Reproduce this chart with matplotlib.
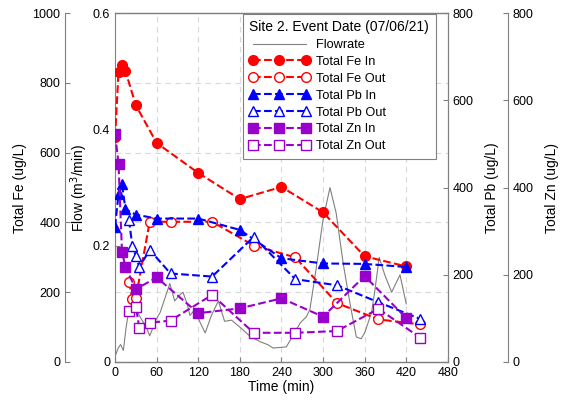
import matplotlib
matplotlib.use('Agg')
import matplotlib.pyplot as plt
from matplotlib.ticker import MultipleLocator, FormatStrFormatter

plt.rcParams['font.family'] = ['Liberation Sans', 'DejaVu Sans']

# flow record
flow_time = [0, 5, 8, 12, 16, 20, 25, 30, 35, 40, 45, 50, 55, 60, 65, 72, 79, 86, 93, 98,
             104, 108, 115, 122, 130, 139, 149, 158, 168, 180, 194, 209, 220, 228, 247, 257,
             267, 276, 281, 290, 300, 310, 319, 329, 339, 348, 355, 360, 370, 375, 381, 389,
             399, 411, 420]
flow = [0.01, 0.025, 0.03, 0.02, 0.06, 0.09, 0.10, 0.095, 0.08, 0.07, 0.06, 0.045, 0.06, 0.075,
        0.085, 0.11, 0.135, 0.105, 0.115, 0.12, 0.10, 0.08, 0.09, 0.07, 0.05, 0.08, 0.105,
        0.07, 0.072, 0.06, 0.045, 0.035, 0.03, 0.024, 0.026, 0.046, 0.067, 0.078, 0.09, 0.16,
        0.245, 0.30, 0.256, 0.17, 0.10, 0.043, 0.04, 0.05, 0.085, 0.125, 0.18, 0.15, 0.12,
        0.15, 0.10]

# inflow samples
t_in = [0, 5, 10, 15, 30, 60, 120, 180, 240, 300, 360, 420]
fe_in = [645, 832, 851, 834, 736, 628, 542, 467, 502, 429, 303, 274]
pb_in = [310, 385, 408, 350, 338, 329, 329, 303, 238, 226, 225, 218]
zn_in = [524, 455, 253, 218, 167, 194, 112, 123, 146, 104, 197, 101]

# outflow samples
t_fe_out = [20, 25, 30, 50, 80, 140, 200, 260, 320, 380, 440]
fe_out = [230, 180, 184, 402, 402, 402, 334, 300, 169, 122, 108]
t_pb_out = [20, 25, 30, 35, 50, 80, 140, 200, 260, 320, 380, 440]
pb_out = [326, 266, 243, 218, 257, 203, 196, 287, 190, 176, 137, 99]
t_zn_out = [20, 30, 35, 50, 80, 140, 200, 260, 320, 380, 440]
zn_out = [117, 127, 78, 90, 95, 154, 67, 67, 71, 122, 56]

red = '#ff0000'
blue = '#0000ff'
purple = '#9900cc'
spine_c = '#808080'

fig = plt.figure(figsize=(5.64, 4), dpi=100)
ax = fig.add_axes([0.204, 0.095, 0.59, 0.872])

# flow axis (host)
ax.plot(flow_time, flow, color='#808080', lw=0.8, label='Flowrate')
ax.set_xlim(0, 480)
ax.set_ylim(0, 0.6)
ax.xaxis.set_major_locator(MultipleLocator(60))
ax.yaxis.set_major_locator(MultipleLocator(0.2))
ax.yaxis.set_major_formatter(FormatStrFormatter('%g'))
ax.yaxis.set_minor_locator(MultipleLocator(0.12))
ax.grid(axis='x', which='major', color='#d9d9d9', ls=(0, (5, 4)), lw=0.8)
ax.grid(axis='y', which='minor', color='#d9d9d9', ls=(0, (5, 4)), lw=0.8)
ax.tick_params(axis='y', which='minor', length=0)
ax.set_xlabel('Time (min)', fontsize=10, labelpad=1)
ax.set_ylabel('Flow (m$^3$/min)', fontsize=10, labelpad=2)

# Fe axis, outer left (offsets in points: 50 px / 60 px at 100 dpi)
ax_fe = ax.twinx()
ax_fe.spines['left'].set_position(('outward', 36))
ax_fe.spines['left'].set_visible(True)
ax_fe.yaxis.set_ticks_position('left')
ax_fe.yaxis.set_label_position('left')
ax_fe.set_ylim(0, 1000)
ax_fe.yaxis.set_major_locator(MultipleLocator(200))
ax_fe.set_ylabel('Total Fe (ug/L)', fontsize=10, labelpad=4)
ax_fe.plot(t_in, fe_in, ls='--', color=red, marker='o', ms=7, lw=1.5, label='Total Fe In')
ax_fe.plot(t_fe_out, fe_out, ls='--', color=red, marker='o', ms=7, lw=1.5,
           mfc='white', mec=red, label='Total Fe Out')

# Pb axis, right spine
ax_pb = ax.twinx()
ax_pb.set_ylim(0, 800)
ax_pb.yaxis.set_major_locator(MultipleLocator(200))
ax_pb.set_ylabel('Total Pb (ug/L)', fontsize=10, labelpad=8)
ax_pb.plot(t_in, pb_in, ls='--', color=blue, marker='^', ms=7, lw=1.5, label='Total Pb In')
ax_pb.plot(t_pb_out, pb_out, ls='--', color=blue, marker='^', ms=7, lw=1.5,
           mfc='white', mec=blue, label='Total Pb Out')

# Zn axis, outer right
ax_zn = ax.twinx()
ax_zn.spines['right'].set_position(('outward', 43))
ax_zn.set_ylim(0, 800)
ax_zn.yaxis.set_major_locator(MultipleLocator(200))
ax_zn.set_ylabel('Total Zn (ug/L)', fontsize=10, labelpad=8)
ax_zn.plot(t_in, zn_in, ls='--', color=purple, marker='s', ms=7, lw=1.5, label='Total Zn In')
ax_zn.plot(t_zn_out, zn_out, ls='--', color=purple, marker='s', ms=7, lw=1.5,
           mfc='white', mec=purple, label='Total Zn Out')

for a in [ax, ax_fe, ax_pb, ax_zn]:
    for s in a.spines.values():
        s.set_color(spine_c)
    a.tick_params(direction='in', colors=spine_c, labelcolor='black', labelsize=9)
ax_fe.spines['right'].set_visible(False)
ax_zn.spines['left'].set_visible(False)
ax_pb.spines['left'].set_visible(False)

handles = []
labels = []
for a in [ax, ax_fe, ax_pb, ax_zn]:
    h, l = a.get_legend_handles_labels()
    handles += h
    labels += l
leg = ax_zn.legend(handles, labels, loc='upper right', bbox_to_anchor=(0.965, 1.0),
                   borderaxespad=0.05, alignment='left',
                   title='Site 2. Event Date (07/06/21)', title_fontsize=10, fontsize=9.2,
                   numpoints=3, handlelength=4.7, fancybox=False, framealpha=1,
                   edgecolor=spine_c, borderpad=0.5, labelspacing=0.38, handletextpad=0.5)
leg.get_frame().set_linewidth(0.8)

fig.savefig('out.png', dpi=100)
